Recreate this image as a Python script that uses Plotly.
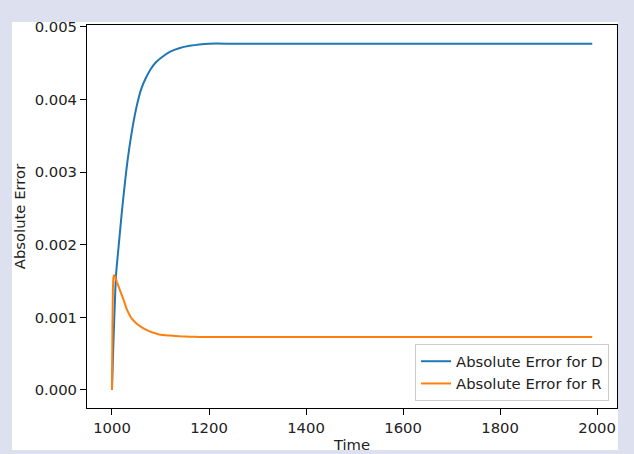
import plotly.graph_objects as go

# Data
time = [1000, 1001, 1002, 1003, 1004, 1006, 1008, 1010, 1015, 1020, 1025, 1030,
        1040, 1050, 1060, 1070, 1080, 1090, 1100, 1120, 1140, 1160, 1180, 1200,
        1250, 1300, 1400, 1500, 1600, 1700, 1800, 1900, 1990]

err_D = [0.0, 0.00022, 0.00045, 0.00066, 0.00085, 0.00122, 0.00155, 0.00172,
         0.00207, 0.00243, 0.00275, 0.00305, 0.00352, 0.00388, 0.00414, 0.00430,
         0.00442, 0.00451, 0.00457, 0.00466, 0.00471, 0.00474, 0.00476, 0.00477,
         0.00477, 0.00477, 0.00477, 0.00477, 0.00477, 0.00477, 0.00477, 0.00477,
         0.00477]

err_R = [0.0, 0.00090, 0.00140, 0.00155, 0.00158, 0.00157, 0.00153, 0.00149,
         0.00140, 0.00131, 0.00122, 0.00112, 0.00099, 0.00092, 0.00087, 0.00083,
         0.00080, 0.00078, 0.00076, 0.00075, 0.00074, 0.000735, 0.00073, 0.00073,
         0.00073, 0.00073, 0.00073, 0.00073, 0.00073, 0.00073, 0.00073, 0.00073,
         0.00073]

x_ticks = [1000, 1200, 1400, 1600, 1800, 2000]
y_ticks = [0.000, 0.001, 0.002, 0.003, 0.004, 0.005]

FONT = "DejaVu Sans"
FS = 14.8
TXT = "#222"

fig = go.Figure()
fig.add_trace(go.Scatter(x=time, y=err_D, mode="lines", name="Absolute Error for D",
                         line=dict(color="#1f77b4", width=2, shape="spline", smoothing=0.5)))
fig.add_trace(go.Scatter(x=time, y=err_R, mode="lines", name="Absolute Error for R",
                         line=dict(color="#ff7f0e", width=2, shape="spline", smoothing=0.5)))

axis_common = dict(showgrid=False, zeroline=False, showline=True, linecolor="black",
                   linewidth=1, mirror=True, ticks="outside", ticklen=6, tickwidth=1,
                   tickcolor="black", automargin=False,
                   tickfont=dict(family=FONT, size=FS, color=TXT))

fig.update_xaxes(range=[948.5, 2041], tickvals=x_ticks,
                 title=dict(text="Time", font=dict(family=FONT, size=FS, color=TXT),
                            standoff=4),
                 **axis_common)
fig.update_yaxes(range=[-0.000248, 0.005027], tickvals=y_ticks, tickformat=".3f",
                 title=dict(text="Absolute Error", font=dict(family=FONT, size=FS, color=TXT),
                            standoff=5),
                 **axis_common)

fig.update_layout(
    width=634, height=454,
    margin=dict(l=87, r=17, t=25, b=46),
    paper_bgcolor="#dde1ef",
    plot_bgcolor="white",
    showlegend=True,
    legend=dict(x=0.985, y=0.018, xanchor="right", yanchor="bottom",
                bgcolor="rgba(255,255,255,0.8)", bordercolor="#cccccc", borderwidth=1,
                font=dict(family=FONT, size=FS, color=TXT), itemwidth=30),
    shapes=[dict(type="rect", xref="paper", yref="paper", x0=-0.1415, x1=1.0019,
                 y0=-0.1097, y1=1.0078, fillcolor="white", line=dict(width=0),
                 layer="below")],
)

fig.write_html("out.html")
